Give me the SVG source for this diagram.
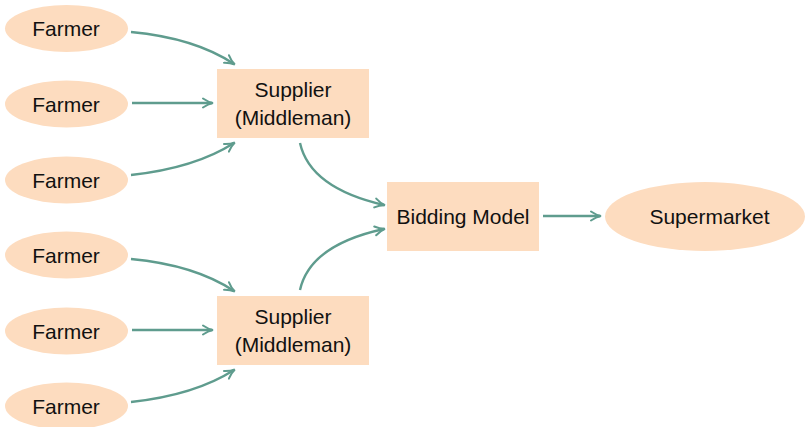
<svg xmlns="http://www.w3.org/2000/svg" width="806" height="427" viewBox="0 0 806 427">
<style>
.n{fill:#fddcbf;stroke:none}
.t{font-family:"Liberation Sans",Arial,sans-serif;font-size:21px;fill:#111;text-anchor:middle;dominant-baseline:central}
.c{fill:none;stroke:#5f9c8e;stroke-width:2.4;marker-end:url(#ah)}
</style>
<defs>
<marker id="ah" markerUnits="userSpaceOnUse" markerWidth="14" markerHeight="12" refX="10" refY="6" orient="auto">
<path d="M1,1.5 Q6,5 11,6 Q6,7 1,10.5" fill="none" stroke="#5f9c8e" stroke-width="2" stroke-linecap="round"/>
</marker>
</defs>
<g id="farmer1"><ellipse class="n" cx="66.5" cy="28.5" rx="61.5" ry="23.5"/><text class="t" x="66" y="28.5">Farmer</text></g>
<g id="farmer2"><ellipse class="n" cx="66.5" cy="104" rx="61.5" ry="23.5"/><text class="t" x="66" y="104">Farmer</text></g>
<g id="farmer3"><ellipse class="n" cx="66.5" cy="180" rx="61.5" ry="23.5"/><text class="t" x="66" y="180">Farmer</text></g>
<g id="farmer4"><ellipse class="n" cx="66.5" cy="255" rx="61.5" ry="23.5"/><text class="t" x="66" y="255">Farmer</text></g>
<g id="farmer5"><ellipse class="n" cx="66.5" cy="331" rx="61.5" ry="23.5"/><text class="t" x="66" y="331">Farmer</text></g>
<g id="farmer6"><ellipse class="n" cx="66.5" cy="406" rx="61.5" ry="23.5"/><text class="t" x="66" y="406">Farmer</text></g>
<g id="supplier1"><rect class="n" x="217" y="69" width="152" height="69"/><text class="t" x="293" y="89">Supplier</text><text class="t" x="293" y="117">(Middleman)</text></g>
<g id="supplier2"><rect class="n" x="217" y="296" width="152" height="69"/><text class="t" x="293" y="316">Supplier</text><text class="t" x="293" y="344">(Middleman)</text></g>
<g id="bidding"><rect class="n" x="387" y="182" width="152" height="69"/><text class="t" x="463" y="216">Bidding Model</text></g>
<g id="supermarket"><ellipse class="n" cx="705" cy="216.5" rx="100" ry="34.5"/><text class="t" x="709.5" y="216">Supermarket</text></g>
<g id="connectors">
<path class="c" d="M131,32 Q195,38 234,64"/>
<path class="c" d="M132,103 L212,103"/>
<path class="c" d="M131,175 Q195,168 234,143"/>
<path class="c" d="M131,259 Q195,265 234,291"/>
<path class="c" d="M132,330 L212,330"/>
<path class="c" d="M131,402 Q195,395 234,370"/>
<path class="c" d="M300,143 Q310,188 384,205"/>
<path class="c" d="M300,290 Q310,245 384,229"/>
<path class="c" d="M543,216 L600,216"/>
</g>
</svg>
